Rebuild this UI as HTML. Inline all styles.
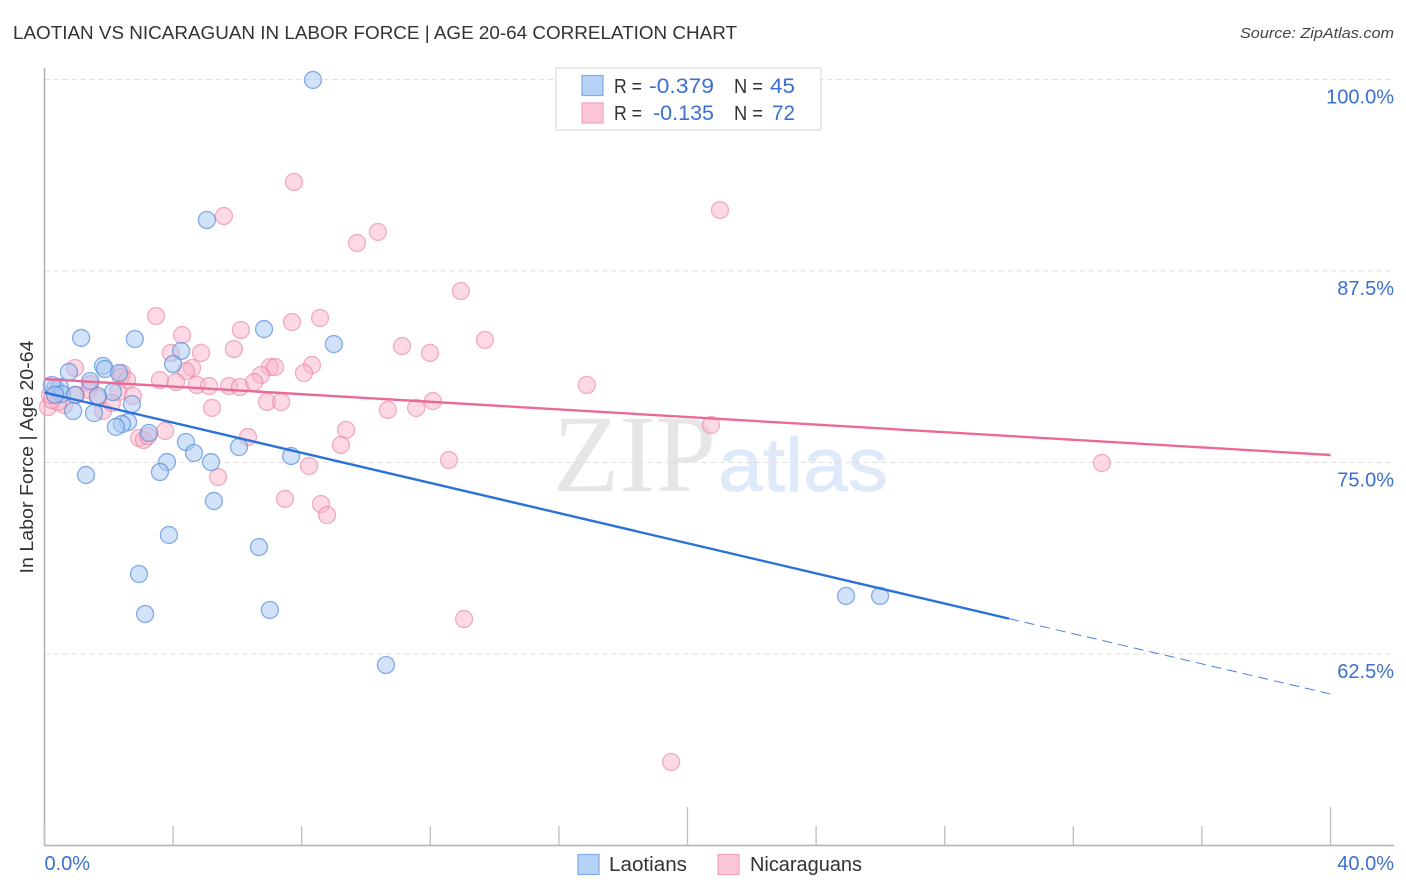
<!DOCTYPE html>
<html lang="en">
<head>
<meta charset="utf-8">
<title>Laotian vs Nicaraguan in Labor Force | Age 20-64 Correlation Chart</title>
<style>
html,body{margin:0;padding:0;background:#fff;}
#chart{display:block;width:1406px;height:892px;font-family:"Liberation Sans",sans-serif;}
</style>
</head>
<body>
<svg id="chart" xmlns="http://www.w3.org/2000/svg" width="1406" height="892" viewBox="0 0 1406 892">
  <rect x="0" y="0" width="1406" height="892" fill="#fff"/>
  <text x="13" y="39" font-size="18.5" fill="#333" textLength="724" lengthAdjust="spacingAndGlyphs">LAOTIAN VS NICARAGUAN IN LABOR FORCE | AGE 20-64 CORRELATION CHART</text>
  <text x="1394" y="38" font-size="15" font-style="italic" fill="#444" text-anchor="end" textLength="154" lengthAdjust="spacingAndGlyphs">Source: ZipAtlas.com</text>
  <g>
    <text x="553" y="491" font-family="'Liberation Serif',serif" font-size="110" fill="#e6e6e6" textLength="163" lengthAdjust="spacingAndGlyphs">ZIP</text>
    <text x="718" y="491" font-family="'Liberation Sans',sans-serif" font-size="76" fill="#dee9f9" stroke="#dee9f9" stroke-width="0.8" textLength="170" lengthAdjust="spacingAndGlyphs">atlas</text>
  </g>
  <g id="grid"></g>
  <g id="axes"></g>
  <g id="pink-points"></g>
  <g id="blue-points"></g>
  <g id="trends"></g>
  <text transform="translate(33,457) rotate(-90)" font-size="18" fill="#333" text-anchor="middle" textLength="233" lengthAdjust="spacingAndGlyphs">In Labor Force | Age 20-64</text>
  <g>
    <rect x="556" y="68" width="265" height="62" fill="#fff" stroke="#dcdcdc" stroke-width="1.2"/>
    <rect x="582" y="75.500" width="21" height="20" fill="#b6d2f7" stroke="#7fabe8" stroke-width="1.2"/>
    <text x="614" y="93" font-size="20" fill="#333" textLength="28" lengthAdjust="spacingAndGlyphs">R =</text>
    <text x="649" y="93" font-size="21" fill="#3b6fd0" textLength="65" lengthAdjust="spacingAndGlyphs">-0.379</text>
    <text x="734" y="93" font-size="20" fill="#333" textLength="29" lengthAdjust="spacingAndGlyphs">N =</text>
    <text x="770" y="93" font-size="21" fill="#3b6fd0" textLength="25" lengthAdjust="spacingAndGlyphs">45</text>
    <rect x="582" y="103" width="21" height="20" fill="#fdc6d8" stroke="#f2a0ba" stroke-width="1.2"/>
    <text x="614" y="120" font-size="20" fill="#333" textLength="28" lengthAdjust="spacingAndGlyphs">R =</text>
    <text x="653" y="120" font-size="21" fill="#3b6fd0" textLength="61" lengthAdjust="spacingAndGlyphs">-0.135</text>
    <text x="734" y="120" font-size="20" fill="#333" textLength="29" lengthAdjust="spacingAndGlyphs">N =</text>
    <text x="772" y="120" font-size="21" fill="#3b6fd0" textLength="23" lengthAdjust="spacingAndGlyphs">72</text>
  </g>
  <g>
    <g>
      <rect x="578" y="854.500" width="21" height="20" fill="#b6d2f7" stroke="#7fabe8" stroke-width="1.2"/>
      <text x="609" y="871" font-size="20" fill="#333" textLength="78" lengthAdjust="spacingAndGlyphs">Laotians</text>
    </g>
    <g>
      <rect x="718" y="854.500" width="21" height="20" fill="#fdc6d8" stroke="#f2a0ba" stroke-width="1.2"/>
      <text x="750" y="871" font-size="20" fill="#333" textLength="112" lengthAdjust="spacingAndGlyphs">Nicaraguans</text>
    </g>
  </g>
</svg>
<script>
var laotiansX = [8.35,5.05,6.83,9.00,1.14,2.81,4.25,4.00,1.82,1.88,2.32,0.76,1.42,2.13,2.72,0.33,0.48,0.23,0.54,0.33,0.95,1.66,0.89,1.54,2.60,2.41,2.22,3.25,4.40,6.05,4.65,7.67,5.18,3.81,3.59,1.29,5.27,3.87,6.67,2.94,7.01,3.13,10.62,24.93,25.99];
var laotiansY = [99.97,90.83,83.71,82.73,83.13,83.06,82.28,81.43,81.30,81.10,80.84,80.91,80.32,79.60,78.82,79.86,79.93,80.06,79.47,79.41,79.41,79.34,78.36,78.23,77.64,77.51,77.32,76.93,76.34,76.01,75.62,75.42,75.03,75.03,74.38,74.18,72.49,70.27,69.48,67.72,65.37,65.11,61.78,66.29,66.29];
var nicaraguansX = [7.76,5.58,21.01,10.37,9.72,12.95,3.47,8.57,7.70,6.11,4.28,13.70,11.12,5.89,11.99,3.93,4.87,8.32,4.59,4.40,7.01,7.17,6.73,8.07,0.95,2.41,2.38,2.57,3.59,4.09,4.74,5.12,5.74,6.08,6.52,16.87,1.42,2.29,2.75,1.38,12.08,6.92,7.36,5.21,10.68,11.56,1.82,2.10,0.98,1.66,0.61,0.11,0.42,0.23,9.38,20.73,3.75,6.33,2.94,3.09,3.22,9.22,12.58,32.89,8.23,5.40,7.48,8.60,8.79,13.05,19.49,0.17];
var nicaraguansY = [93.31,91.09,91.48,90.05,89.33,86.19,84.56,84.43,84.17,83.65,83.32,83.00,82.60,82.41,82.15,82.15,82.15,81.36,81.17,80.97,81.23,81.23,80.71,80.84,81.17,80.84,80.58,80.38,80.38,80.25,80.06,79.99,79.99,79.93,80.25,80.06,80.12,79.60,79.34,79.73,79.01,78.95,78.95,78.56,78.43,78.56,78.36,78.88,79.41,79.21,78.75,78.62,78.95,79.08,77.12,77.45,77.06,76.66,76.60,76.47,76.73,76.14,75.16,74.97,74.77,74.05,72.62,72.29,71.57,64.78,55.45,79.41];
var yTickValues = [100, 87.5, 75, 62.5];
var yTickLabels = ["100.0%", "87.5%", "75.0%", "62.5%"];
var xTickValues = [0, 4, 8, 12, 16, 20, 24, 28, 32, 36, 40];
var xEdgeLabels = ["0.0%", "40.0%"];
var laotiansTrendStartEnd = [79.57, 59.89];
var nicaraguansTrendStartEnd = [80.45, 75.49];
var laotiansSolidUntil = 30;

var NS = "http://www.w3.org/2000/svg";
function xScale(v) { return 44.5 + v * 32.15; }
function yScale(v) { return 79.5 + (100 - v) * 15.32; }
function make(tag, attrs, parent) {
  var el = document.createElementNS(NS, tag);
  for (var k in attrs) { el.setAttribute(k, attrs[k]); }
  parent.appendChild(el);
  return el;
}

var grid = document.getElementById("grid");
var axes = document.getElementById("axes");

yTickValues.forEach(function (v, i) {
  var line = make("line", {x1: 44.5, x2: 1394, y1: yScale(v), y2: yScale(v), stroke: "#dedede", "stroke-width": 1, "stroke-dasharray": "5 4"}, grid);
  
  
  var label = make("text", {x: 1394, y: yScale(v) + 24, "font-size": 20, fill: "#3b6fd0", "text-anchor": "end"}, axes);
  
  
  label.textContent = yTickLabels[i];
});

var yAxisLine = make("line", {x1: 44.5, x2: 44.5, y1: 68, y2: 846, stroke: "#b0b0b0", "stroke-width": 1.5}, axes);


var xAxisLine = make("line", {x1: 44, x2: 1394, y1: 845.5, y2: 845.5, stroke: "#b0b0b0", "stroke-width": 1.5}, axes);



xTickValues.forEach(function (v) {
  var major = v === 20 || v === 40;
  var tick = make("line", {x1: xScale(v), x2: xScale(v), y1: major ? 807 : 826, y2: 845.5, stroke: "#bdbdbd", "stroke-width": 1.3}, axes);
  
  
});

var xLabelLeft = make("text", {x: xScale(0), y: 870, "font-size": 20, fill: "#3b6fd0"}, axes);


xLabelLeft.textContent = xEdgeLabels[0];
var xLabelRight = make("text", {x: 1394, y: 870, "font-size": 20, fill: "#3b6fd0", "text-anchor": "end"}, axes);


xLabelRight.textContent = xEdgeLabels[1];

var pinkGroup = document.getElementById("pink-points");
nicaraguansX.forEach(function (v, i) {
  var c = make("circle", {cx: xScale(v), cy: yScale(nicaraguansY[i]), r: 8.5, fill: "#f9b4ca", "fill-opacity": 0.5, stroke: "#ea7ea0", "stroke-opacity": 0.6, "stroke-width": 1.3}, pinkGroup);
  
  
});
var blueGroup = document.getElementById("blue-points");
laotiansX.forEach(function (v, i) {
  var c = make("circle", {cx: xScale(v), cy: yScale(laotiansY[i]), r: 8.5, fill: "#a9c8f2", "fill-opacity": 0.52, stroke: "#4a86dc", "stroke-opacity": 0.65, "stroke-width": 1.3}, blueGroup);
  
  
});

var trends = document.getElementById("trends");
function trendAt(pair, x) { return pair[0] + (pair[1] - pair[0]) * x / 40; }

var pinkTrend = make("line", {x1: xScale(0), y1: yScale(trendAt(nicaraguansTrendStartEnd, 0)), x2: xScale(40), y2: yScale(trendAt(nicaraguansTrendStartEnd, 40)), stroke: "#ea6a96", "stroke-width": 2.4}, trends);


var blueTrend = make("line", {x1: xScale(0), y1: yScale(trendAt(laotiansTrendStartEnd, 0)), x2: xScale(laotiansSolidUntil), y2: yScale(trendAt(laotiansTrendStartEnd, laotiansSolidUntil)), stroke: "#2a72d8", "stroke-width": 2.4}, trends);


var blueDash = make("line", {x1: xScale(laotiansSolidUntil), y1: yScale(trendAt(laotiansTrendStartEnd, laotiansSolidUntil)), x2: xScale(40), y2: yScale(trendAt(laotiansTrendStartEnd, 40)), stroke: "#4a80d8", "stroke-width": 1, "stroke-dasharray": "10 6"}, trends);


</script>
</body>
</html>
